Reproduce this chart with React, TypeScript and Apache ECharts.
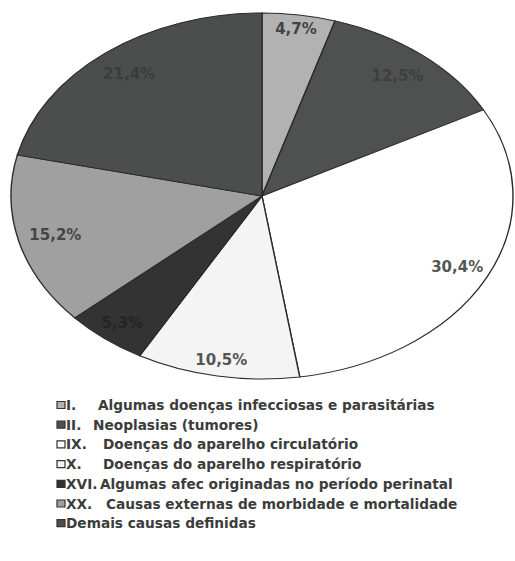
import React, { useEffect, useRef } from "react";
import * as echarts from "echarts";

const numerals = ["I.", "II.", "IX.", "X.", "XVI.", "XX.", ""];
const descriptions = [
  "Algumas doenças infecciosas e parasitárias",
  "Neoplasias (tumores)",
  "Doenças do aparelho circulatório",
  "Doenças do aparelho respiratório",
  "Algumas afec originadas no período perinatal",
  "Causas externas de morbidade e mortalidade",
  "Demais causas definidas",
];
const values = [4.7, 12.5, 30.4, 10.5, 5.3, 15.2, 21.4];

// styling / layout
const colors = ["#b2b2b2", "#4f5150", "#ffffff", "#f4f4f4", "#333333", "#a0a0a0", "#4c4e4d"];
const labelColors = ["#444", "#3d3f3e", "#555", "#555", "#252525", "#454545", "#3b3d3c"];
const labelR = [0.92, 0.85, 0.87, 0.91, 0.89, 0.85, 0.85];
const descX = [98, 93, 103, 103, 100, 106, 66];
const CX = 262, CY = 196, RX = 251, RY = 183;
const LEG_X = 57, LEG_Y0 = 405, LEG_GAP = 19.7;
const LEG_FONT = 'bold 13.7px "DejaVu Sans"';

const total = values.reduce((a, b) => a + b, 0);
const cumStart: number[] = [];
values.reduce((acc, v, i) => {
  cumStart[i] = acc;
  return acc + v;
}, 0);

const fmt = (v: number) => v.toFixed(1).replace(".", ",") + "%";

export default function App() {
  const ref = useRef<HTMLDivElement>(null);
  useEffect(() => {
    document.body.style.margin = "0";
    const chart = echarts.init(ref.current!, null, { renderer: "svg" });
    const legendEls: any[] = [];
    numerals.forEach((n, i) => {
      const y = LEG_Y0 + i * LEG_GAP;
      legendEls.push({
        type: "rect",
        shape: { x: LEG_X, y: y - 3.5, width: 8, height: 7 },
        style: { fill: colors[i], stroke: "#333", lineWidth: 1.2 },
      });
      if (n) {
        legendEls.push({
          type: "text",
          x: 66,
          y,
          style: {
            text: n,
            fill: "#3c3c3c",
            font: LEG_FONT,
            align: "left",
            verticalAlign: "middle",
          },
        });
      }
      legendEls.push({
        type: "text",
        x: descX[i],
        y,
        style: {
          text: descriptions[i],
          fill: "#3c3c3c",
          font: LEG_FONT,
          align: "left",
          verticalAlign: "middle",
        },
      });
    });

    chart.setOption({
      animation: false,
      backgroundColor: "#ffffff",
      graphic: legendEls,
      series: [
        {
          type: "custom",
          coordinateSystem: "none",
          data: values.map((v) => [v]),
          renderItem: (params: any, api: any) => {
            const i = params.dataIndex;
            const v = api.value(0);
            const f0 = cumStart[i] / total;
            const f1 = (cumStart[i] + v) / total;
            const a0 = -Math.PI / 2 + f0 * 2 * Math.PI;
            const a1 = -Math.PI / 2 + f1 * 2 * Math.PI;
            const mid = ((f0 + f1) / 2) * 2 * Math.PI;
            return {
              type: "group",
              children: [
                {
                  type: "sector",
                  x: CX,
                  y: CY,
                  scaleY: RY / RX,
                  shape: { cx: 0, cy: 0, r0: 0, r: RX, startAngle: a0, endAngle: a1, clockwise: true },
                  style: { fill: colors[i], stroke: "#2b2b2b", lineWidth: 1.4 },
                },
                {
                  type: "text",
                  x: CX + labelR[i] * RX * Math.sin(mid),
                  y: CY - labelR[i] * RY * Math.cos(mid),
                  style: {
                    text: fmt(v),
                    fill: labelColors[i],
                    font: 'bold 15px "DejaVu Sans"',
                    align: "center",
                    verticalAlign: "middle",
                  },
                },
              ],
            };
          },
        },
      ],
    });
    return () => chart.dispose();
  }, []);
  return <div ref={ref} style={{ width: 515, height: 561 }} />;
}
